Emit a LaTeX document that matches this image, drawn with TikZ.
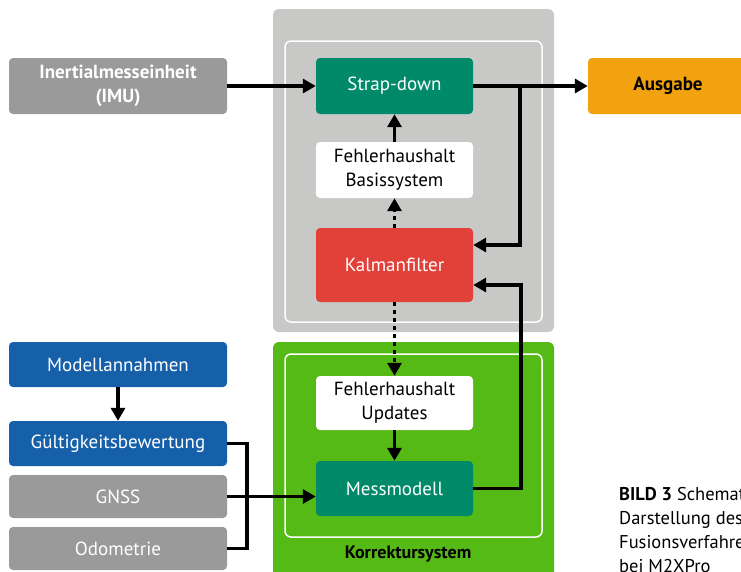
\documentclass[tikz,border=0pt]{standalone}
\usepackage{fontspec}
\setmainfont{PT Sans}
\usetikzlibrary{arrows.meta,calc}
\definecolor{cgray}{HTML}{9A9A9A}
\definecolor{cteal}{HTML}{008A6A}
\definecolor{cred}{HTML}{E2413A}
\definecolor{corange}{HTML}{F2A20F}
\definecolor{cblue}{HTML}{1660AA}
\definecolor{cgreen}{HTML}{55BA15}
\definecolor{clight}{HTML}{C8C8C7}
\tikzset{
  box/.style={rounded corners=4pt, inner sep=0pt, align=center, font=\fontsize{19}{24}\selectfont},
  boldbox/.style={font=\fontsize{19}{24}\selectfont\bfseries},
  graybox/.style={box, fill=cgray, text=white, minimum width=218pt},
  bluebox/.style={box, fill=cblue, text=white, minimum width=218pt},
  tealbox/.style={box, fill=cteal, text=white, minimum width=157pt},
  whitebox/.style={box, fill=white, text=black, minimum width=157pt},
  capline/.style={anchor=base west, inner sep=0pt, font=\fontsize{18.5}{24}\selectfont},
  arr/.style={line width=3.5pt, -{Triangle[length=13pt,width=14pt]}},
  plain/.style={line width=3.5pt},
  dotline/.style={dash pattern=on 3.5pt off 4.5pt},
}
\begin{document}
\begin{tikzpicture}[x=1pt,y=-1pt]
\useasboundingbox (0,0) rectangle (741,571);
\clip (0,0) rectangle (741,571);
% system frames
\fill[clight, rounded corners=6pt] (273,9) rectangle (554,332);
\draw[white, line width=1.5pt, rounded corners=6pt] (285,41) rectangle (542,322);
\fill[cgreen, rounded corners=6pt] (273,342) rectangle (554,580);
\draw[white, line width=1.5pt, rounded corners=6pt] (285,354) rectangle (542,537);
\node[font=\fontsize{18}{20}\selectfont\bfseries] (korr) at (408,554) {Korrektursystem};
% nodes
\node[graybox, minimum height=56pt, boldbox] (imu) at (118,86) {Inertialmesseinheit\\(IMU)};
\node[tealbox, minimum height=56pt] (strap) at (394.5,86) {Strap-down};
\node[whitebox, minimum height=56pt] (fhb) at (394.5,170) {Fehlerhaushalt\\Basissystem};
\node[box, fill=cred, text=white, minimum width=157pt, minimum height=74pt] (kalman) at (394.5,265) {Kalmanfilter};
\node[box, fill=corange, text=black, minimum width=160pt, minimum height=56pt, boldbox] (ausgabe) at (668,86) {Ausgabe};
\node[whitebox, minimum height=54pt] (upd) at (394.5,403) {Fehlerhaushalt\\Updates};
\node[tealbox, minimum height=55pt] (mess) at (394.5,488.5) {Messmodell};
\node[bluebox, minimum height=45pt] (modell) at (118,364.5) {Modellannahmen};
\node[bluebox, minimum height=45pt] (guelt) at (118,443.5) {Gültigkeitsbewertung};
\node[graybox, minimum height=43pt] (gnss) at (118,496.5) {GNSS};
\node[graybox, minimum height=43pt] (odo) at (118,548.5) {Odometrie};
% caption
\node[capline] (cap1) at (619,500) {\textbf{BILD 3} Schematische};
\node[capline] (cap2) at (619,524) {Darstellung des};
\node[capline] (cap3) at (619,548) {Fusionsverfahrens};
\node[capline] (cap4) at (619,572) {bei M2XPro};
% connectors
\coordinate (br) at (520,86);
\coordinate (c2) at (521,285);
\coordinate (jn) at (247,443.5);
\draw[arr] (imu.east) -- (strap.west);
\draw[arr] (strap.east) -- (ausgabe.west);
\draw[arr] (br) |- ([yshift=20pt]kalman.east);
\draw[arr] (mess.east) -| (c2) -- ([yshift=-20pt]kalman.east);
\draw[arr] (fhb.north) -- (strap.south);
\draw[arr, dotline] (kalman.north) -- (fhb.south);
\draw[arr, dotline] (kalman.south) -- (upd.north);
\draw[arr] (upd.south) -- (mess.north);
\draw[arr] (modell.south) -- (guelt.north);
\draw[plain] (guelt.east) -| (jn |- odo.east) -- (odo.east);
\draw[arr] (gnss.east) -- (gnss.east -| mess.west);
\end{tikzpicture}
\end{document}
